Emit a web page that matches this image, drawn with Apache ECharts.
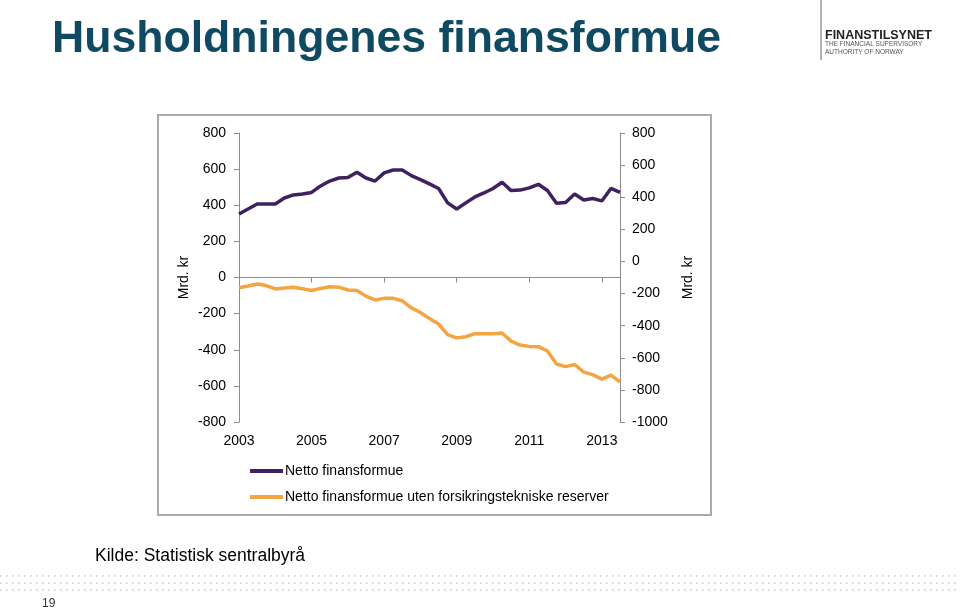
<!DOCTYPE html>
<html>
<head>
<meta charset="utf-8">
<script src="https://cdn.jsdelivr.net/npm/echarts@6/dist/echarts.min.js"></script>
<style>
  html, body { margin: 0; padding: 0; background: #fff; }
  #chart { width: 960px; height: 609px; }
</style>
</head>
<body>
<div id="chart"></div>
<script>
const quarters = [
  '2003K1', '2003K2', '2003K3', '2003K4', '2004K1', '2004K2', '2004K3', '2004K4',
  '2005K1', '2005K2', '2005K3', '2005K4', '2006K1', '2006K2', '2006K3', '2006K4',
  '2007K1', '2007K2', '2007K3', '2007K4', '2008K1', '2008K2', '2008K3', '2008K4',
  '2009K1', '2009K2', '2009K3', '2009K4', '2010K1', '2010K2', '2010K3', '2010K4',
  '2011K1', '2011K2', '2011K3', '2011K4', '2012K1', '2012K2', '2012K3', '2012K4',
  '2013K1', '2013K2', '2013K3'
]

// Netto finansformue, mrd. kr (venstre akse)
const netto = [352, 379, 407, 407, 407, 440, 457, 462, 471, 507, 534, 551, 553, 583, 551, 534,
  579, 595, 595, 564, 542, 518, 493, 413, 379, 413, 446, 468, 493, 527, 481, 484,
  496, 516, 482, 411, 415, 462, 429, 437, 424, 493, 471]

// Netto finansformue uten forsikringstekniske reserver, mrd. kr (høyre akse)
const nettoUten = [-164, -153, -140, -150, -171, -166, -161, -170, -181, -168, -158, -160, -178, -181, -216, -240,
  -230, -230, -245, -289, -318, -356, -390, -456, -476, -469, -450, -451, -450, -446, -496, -521,
  -529, -531, -558, -639, -655, -642, -689, -705, -733, -708, -750]

const leftTicks = { min: -800, max: 800, step: 200 }
const rightTicks = { min: -1000, max: 800, step: 200 }

const font = 'Liberation Sans, Arial, sans-serif'
const axisGrey = '#8c8c8c'

const chart = echarts.init(document.getElementById('chart'))

const dotRow = (y) => ({
  type: 'line',
  shape: { x1: 0, y1: y, x2: 960, y2: y },
  style: { stroke: '#c3c9cf', lineWidth: 1.5, lineDash: [1.5, 4.5] },
  silent: true
})

const option = {
  animation: false,
  backgroundColor: '#fff',
  title: {
    text: 'Husholdningenes finansformue',
    left: 52,
    top: 17,
    padding: 0,
    textStyle: { fontFamily: font, fontSize: 44.6, fontWeight: 'bold', color: '#0f4a62' }
  },
  graphic: [
    {
      type: 'rect',
      z: -1,
      shape: { x: 158, y: 115, width: 553, height: 400 },
      style: { fill: '#fff', stroke: '#ababab', lineWidth: 2 }
    },
    // logo
    {
      type: 'line',
      shape: { x1: 821, y1: 0, x2: 821, y2: 60 },
      style: { stroke: '#666', lineWidth: 1 }
    },
    {
      type: 'text', left: 825, top: 29,
      style: { text: 'FINANSTILSYNET', font: 'bold 12.5px ' + font, fill: '#222' }
    },
    {
      type: 'text', left: 825, top: 41,
      style: { text: 'THE FINANCIAL SUPERVISORY', font: '6.5px ' + font, fill: '#555' }
    },
    {
      type: 'text', left: 825, top: 48.5,
      style: { text: 'AUTHORITY OF NORWAY', font: '6.5px ' + font, fill: '#555' }
    },
    // kilde og sidenummer
    {
      type: 'text', left: 95, top: 547,
      style: { text: 'Kilde: Statistisk sentralbyrå', font: '17.5px ' + font, fill: '#000' }
    },
    dotRow(576),
    dotRow(583),
    dotRow(590),
    {
      type: 'text', left: 42, top: 598,
      style: { text: '19', font: '12px ' + font, fill: '#333' }
    }
  ],
  legend: {
    orient: 'vertical',
    left: 250,
    top: 463,
    padding: 0,
    itemWidth: 33,
    itemHeight: 4,
    itemGap: 10,
    icon: 'rect',
    textStyle: { fontFamily: font, fontSize: 14, color: '#000', lineHeight: 16, padding: [0, 0, 0, -3] },
    data: ['Netto finansformue', 'Netto finansformue uten forsikringstekniske reserver']
  },
  grid: { left: 239, right: 340, top: 133, bottom: 187 },
  xAxis: [
    {
      type: 'category',
      data: quarters,
      boundaryGap: false,
      axisLine: { onZero: true, lineStyle: { color: axisGrey, width: 1 } },
      axisTick: { show: true, interval: 7, length: 5, lineStyle: { color: axisGrey } },
      axisLabel: { show: false },
      splitLine: { show: false }
    },
    {
      type: 'category',
      data: quarters,
      boundaryGap: false,
      position: 'bottom',
      axisLine: { show: false, onZero: false },
      axisTick: { show: false },
      axisLabel: {
        interval: 7,
        margin: 12,
        fontFamily: font,
        fontSize: 14,
        color: '#000',
        formatter: (v) => v.slice(0, 4)
      },
      splitLine: { show: false }
    }
  ],
  yAxis: [
    {
      type: 'value',
      position: 'left',
      min: leftTicks.min,
      max: leftTicks.max,
      interval: leftTicks.step,
      name: 'Mrd. kr',
      nameLocation: 'middle',
      nameRotate: 90,
      nameGap: 48,
      nameTextStyle: { fontFamily: font, fontSize: 14, color: '#000' },
      axisLine: { show: true, lineStyle: { color: axisGrey } },
      axisTick: { show: true, length: 5, lineStyle: { color: axisGrey } },
      axisLabel: { fontFamily: font, fontSize: 14, color: '#000', margin: 13, formatter: (v) => String(v) },
      splitLine: { show: false }
    },
    {
      type: 'value',
      position: 'right',
      min: rightTicks.min,
      max: rightTicks.max,
      interval: rightTicks.step,
      name: 'Mrd. kr',
      nameLocation: 'middle',
      nameRotate: 90,
      nameGap: 61,
      nameTextStyle: { fontFamily: font, fontSize: 14, color: '#000' },
      axisLine: { show: true, lineStyle: { color: axisGrey } },
      axisTick: { show: true, length: 5, lineStyle: { color: axisGrey } },
      axisLabel: { fontFamily: font, fontSize: 14, color: '#000', margin: 12, formatter: (v) => String(v) },
      splitLine: { show: false }
    }
  ],
  series: [
    {
      name: 'Netto finansformue',
      type: 'line',
      yAxisIndex: 0,
      data: netto,
      showSymbol: false,
      symbol: 'none',
      color: '#40215f',
      lineStyle: { width: 3.5, color: '#40215f' }
    },
    {
      name: 'Netto finansformue uten forsikringstekniske reserver',
      type: 'line',
      yAxisIndex: 1,
      data: nettoUten,
      showSymbol: false,
      symbol: 'none',
      color: '#f4a441',
      lineStyle: { width: 3.5, color: '#f4a441' }
    }
  ]
}

chart.setOption(option)
</script>
</body>
</html>
